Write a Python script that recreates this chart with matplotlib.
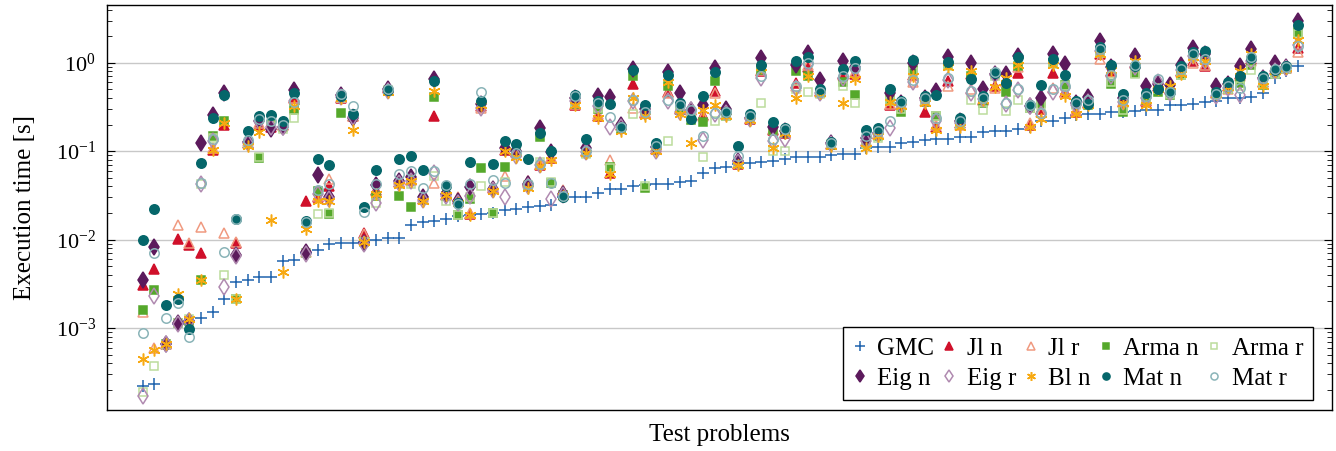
import numpy as np
import matplotlib
matplotlib.use("Agg")
import matplotlib.pyplot as plt
from matplotlib.ticker import LogLocator, NullFormatter

plt.rcParams['font.family'] = ['Liberation Serif', 'DejaVu Serif']
plt.rcParams['mathtext.fontset'] = 'custom'
plt.rcParams['mathtext.rm'] = 'Liberation Serif'
plt.rcParams['mathtext.it'] = 'Liberation Serif:italic'

# execution times in seconds, one value per test problem (sorted by GMC)
gmc = [2.2e-4, 2.3e-4, 6.5e-4, 1.1e-3, 1.2e-3, 1.3e-3, 1.5e-3, 2.1e-3, 3.3e-3, 3.5e-3,
       3.8e-3, 3.8e-3, 5.7e-3, 5.8e-3, 7.0e-3, 7.6e-3, 8.9e-3, 9.1e-3, 9.2e-3, 9.4e-3,
       0.0100, 0.0103, 0.0105, 0.0145, 0.0158, 0.0162, 0.017, 0.0185, 0.019, 0.0194,
       0.0198, 0.0217, 0.0222, 0.0232, 0.024, 0.0246, 0.0299, 0.030, 0.0302, 0.0335,
       0.0375, 0.0377, 0.040, 0.041, 0.042, 0.043, 0.045, 0.046, 0.0564, 0.064,
       0.066, 0.071, 0.0744, 0.075, 0.078, 0.082, 0.085, 0.085, 0.086, 0.091,
       0.092, 0.092, 0.108, 0.111, 0.112, 0.125, 0.126, 0.134, 0.137, 0.138,
       0.144, 0.146, 0.164, 0.17, 0.171, 0.178, 0.19, 0.22, 0.22, 0.24,
       0.257, 0.26, 0.262, 0.28, 0.28, 0.286, 0.294, 0.295, 0.335, 0.336,
       0.34, 0.359, 0.371, 0.4, 0.402, 0.408, 0.454, 0.67, 0.81, 0.91]

jl_n = [3.1e-3, 4.7e-3, 6.6e-4, 0.0101, 8.7e-3, 7.1e-3, 0.104, 0.2, 9.1e-3, 0.125,
        0.2, 0.19, 0.2, 0.4, 0.027, 0.03, 0.04, 0.4, 0.25, 0.012,
        0.036, 0.52, 0.045, 0.047, 0.029, 0.25, 0.032, 0.029, 0.0195, 0.32,
        0.038, 0.104, 0.097, 0.046, 0.07, 0.083, 0.035, 0.33, 0.1, 0.25,
        0.056, 0.2, 0.58, 0.27, 0.105, 0.466, 0.3, 0.29, 0.258, 0.473,
        0.26, 0.072, 0.23, 0.8, 0.175, 0.16, 0.59, 0.9, 0.48, 0.12,
        0.75, 0.74, 0.13, 0.155, 0.335, 0.34, 0.72, 0.28, 0.19, 0.62,
        0.21, 0.75, 0.38, 0.55, 0.62, 0.77, 0.2, 0.3, 0.76, 0.47,
        0.28, 0.35, 1.25, 0.8, 0.36, 1.0, 0.37, 0.55, 0.5, 0.8,
        1.05, 0.91, 0.45, 0.55, 0.75, 1.1, 0.6, 0.85, 0.88, 1.45]

jl_r = [1.5e-3, 5.9e-4, 6.8e-4, 0.0147, 9.1e-3, 0.0137, 0.108, 0.0118, 9.3e-3, 0.13,
        0.21, 0.2, 0.2, 0.4, 7.2e-3, 0.031, 0.049, 0.41, 0.25, 0.0115,
        0.035, 0.53, 0.047, 0.048, 0.03, 0.044, 0.033, 0.03, 0.02, 0.31,
        0.039, 0.053, 0.1, 0.044, 0.072, 0.085, 0.036, 0.34, 0.1, 0.26,
        0.08, 0.2, 0.31, 0.28, 0.11, 0.45, 0.3, 0.3, 0.25, 0.45,
        0.26, 0.074, 0.235, 0.82, 0.18, 0.165, 0.55, 0.95, 0.47, 0.12,
        0.72, 0.78, 0.13, 0.16, 0.34, 0.34, 0.6, 0.37, 0.2, 0.55,
        0.2, 0.5, 0.39, 0.52, 0.6, 0.9, 0.21, 0.28, 0.52, 0.46,
        0.29, 0.36, 1.1, 0.78, 0.37, 1.0, 0.38, 0.58, 0.5, 0.78,
        1.0, 0.95, 0.45, 0.5, 0.7, 1.05, 0.6, 0.83, 0.88, 1.33]

arma_n = [1.6e-3, 2.7e-3, 6.5e-4, 1.15e-3, 1.2e-3, 3.5e-3, 0.147, 0.217, 2.1e-3, 0.12,
          0.084, 0.2, 0.19, 0.29, 7.0e-3, 0.035, 0.0195, 0.27, 0.25, 9.3e-3,
          0.031, 0.48, 0.031, 0.0235, 0.028, 0.41, 0.031, 0.019, 0.029, 0.064,
          0.02, 0.066, 0.095, 0.04, 0.145, 0.044, 0.032, 0.34, 0.095, 0.3,
          0.067, 0.18, 0.7, 0.038, 0.105, 0.54, 0.294, 0.226, 0.213, 0.625,
          0.25, 0.072, 0.23, 0.83, 0.175, 0.16, 0.8, 0.7, 0.46, 0.118,
          0.6, 0.43, 0.12, 0.15, 0.38, 0.28, 0.83, 0.36, 0.247, 0.95,
          0.2, 0.7, 0.35, 0.74, 0.47, 0.91, 0.31, 0.35, 1.0, 0.56,
          0.34, 0.33, 1.3, 0.58, 0.28, 0.76, 0.38, 0.47, 0.43, 0.73,
          1.2, 1.18, 0.44, 0.5, 0.59, 0.95, 0.56, 0.75, 0.86, 2.2]

arma_r = [1.9e-4, 3.7e-4, 6.4e-4, 1.15e-3, 1.25e-3, 0.042, 0.14, 4.0e-3, 2.1e-3, 0.12,
          0.085, 0.195, 0.18, 0.236, 7.0e-3, 0.0195, 0.02, 0.4, 0.25, 9.4e-3,
          0.026, 0.49, 0.042, 0.042, 0.028, 0.052, 0.027, 0.019, 0.03, 0.04,
          0.02, 0.045, 0.094, 0.041, 0.075, 0.045, 0.031, 0.35, 0.094, 0.31,
          0.065, 0.19, 0.26, 0.04, 0.104, 0.13, 0.3, 0.24, 0.085, 0.22,
          0.25, 0.073, 0.232, 0.35, 0.1, 0.1, 0.5, 0.47, 0.44, 0.12,
          0.55, 0.35, 0.12, 0.14, 0.37, 0.3, 0.78, 0.37, 0.25, 0.93,
          0.2, 0.377, 0.295, 0.7, 0.285, 0.375, 0.31, 0.33, 0.98, 0.55,
          0.33, 0.34, 1.3, 0.6, 0.29, 0.75, 0.4, 0.5, 0.44, 0.72,
          1.15, 1.15, 0.43, 0.5, 0.55, 0.83, 0.57, 0.75, 0.86, 2.1]

eig_n = [3.5e-3, 8.3e-3, 6.6e-4, 1.15e-3, 1.2e-3, 0.123, 0.257, 0.45, 6.7e-3, 0.128,
         0.22, 0.18, 0.19, 0.495, 7.2e-3, 0.054, 0.03, 0.43, 0.24, 9.2e-3,
         0.041, 0.5, 0.046, 0.051, 0.03, 0.65, 0.033, 0.027, 0.039, 0.34,
         0.037, 0.108, 0.1, 0.043, 0.182, 0.098, 0.033, 0.4, 0.108, 0.42,
         0.41, 0.2, 0.86, 0.3, 0.11, 0.78, 0.454, 0.29, 0.335, 0.87,
         0.3, 0.078, 0.24, 1.13, 0.19, 0.17, 0.95, 1.3, 0.64, 0.125,
         1.05, 0.9, 0.14, 0.16, 0.45, 0.35, 1.0, 0.4, 0.48, 1.17,
         0.22, 1.0, 0.507, 0.75, 0.75, 1.2, 0.32, 0.4, 1.24, 0.97,
         0.35, 0.41, 1.78, 0.9, 0.4, 1.18, 0.54, 0.58, 0.56, 0.95,
         1.48, 1.25, 0.55, 0.58, 0.92, 1.42, 0.68, 1.0, 0.9, 2.95]

eig_r = [1.7e-4, 2.3e-3, 6.5e-4, 1.1e-3, 1.2e-3, 0.043, 0.13, 2.9e-3, 6.6e-3, 0.125,
         0.22, 0.19, 0.19, 0.37, 6.9e-3, 0.033, 0.029, 0.41, 0.245, 9.0e-3,
         0.026, 0.48, 0.044, 0.046, 0.028, 0.056, 0.031, 0.026, 0.031, 0.31,
         0.036, 0.0305, 0.088, 0.04, 0.07, 0.029, 0.032, 0.37, 0.097, 0.32,
         0.187, 0.19, 0.37, 0.28, 0.1, 0.37, 0.28, 0.294, 0.134, 0.26,
         0.27, 0.076, 0.23, 0.67, 0.131, 0.138, 0.52, 0.98, 0.45, 0.12,
         0.68, 0.85, 0.13, 0.155, 0.183, 0.33, 0.6, 0.38, 0.22, 0.63,
         0.21, 0.45, 0.39, 0.72, 0.34, 0.49, 0.32, 0.26, 0.47, 0.52,
         0.33, 0.36, 1.35, 0.7, 0.36, 0.9, 0.4, 0.6, 0.45, 0.83,
         1.2, 1.05, 0.42, 0.52, 0.43, 1.05, 0.65, 0.8, 0.88, 1.6]

bl_n = [4.4e-4, 5.6e-4, 6.5e-4, 2.4e-3, 1.25e-3, 3.5e-3, 0.102, 0.21, 2.1e-3, 0.113,
        0.163, 0.0167, 4.3e-3, 0.32, 0.0133, 0.027, 0.027, 0.4, 0.175, 9.3e-3,
        0.033, 0.47, 0.041, 0.046, 0.027, 0.48, 0.032, 0.026, 0.019, 0.33,
        0.035, 0.1, 0.085, 0.038, 0.068, 0.08, 0.031, 0.33, 0.096, 0.24,
        0.055, 0.17, 0.4, 0.247, 0.1, 0.61, 0.26, 0.123, 0.294, 0.335,
        0.253, 0.07, 0.225, 0.89, 0.108, 0.16, 0.4, 0.7, 0.46, 0.113,
        0.35, 0.65, 0.108, 0.15, 0.36, 0.32, 0.7, 0.35, 0.174, 0.9,
        0.19, 0.8, 0.38, 0.53, 0.68, 0.95, 0.19, 0.23, 0.95, 0.42,
        0.26, 0.33, 1.25, 0.82, 0.35, 1.05, 0.335, 0.5, 0.55, 0.74,
        1.15, 1.05, 0.44, 0.53, 0.8, 1.25, 0.55, 0.8, 0.87, 1.8]

mat_n = [0.010, 0.022, 1.8e-3, 2.1e-3, 9.8e-4, 0.073, 0.236, 0.43, 0.0171, 0.167,
         0.25, 0.255, 0.222, 0.45, 0.0163, 0.081, 0.07, 0.42, 0.265, 0.0235,
         0.061, 0.49, 0.081, 0.087, 0.061, 0.62, 0.04, 0.0257, 0.0745, 0.37,
         0.071, 0.131, 0.121, 0.081, 0.16, 0.1, 0.03, 0.435, 0.137, 0.37,
         0.34, 0.187, 0.83, 0.335, 0.124, 0.73, 0.35, 0.232, 0.416, 0.777,
         0.28, 0.115, 0.26, 0.95, 0.211, 0.182, 1.05, 1.15, 0.5, 0.128,
         0.85, 1.05, 0.172, 0.182, 0.5, 0.365, 1.08, 0.416, 0.43, 1.02,
         0.24, 0.66, 0.418, 0.77, 0.59, 1.15, 0.336, 0.565, 1.09, 0.72,
         0.365, 0.34, 1.52, 0.94, 0.44, 0.93, 0.45, 0.5, 0.47, 0.91,
         1.33, 1.37, 0.47, 0.61, 0.71, 1.12, 0.71, 0.82, 0.92, 2.7]

mat_r = [8.7e-4, 7.0e-3, 1.3e-3, 1.9e-3, 7.9e-4, 0.044, 0.137, 7.3e-3, 0.0171, 0.135,
         0.23, 0.22, 0.2, 0.36, 0.016, 0.0365, 0.043, 0.44, 0.32, 0.0204,
         0.042, 0.5, 0.055, 0.059, 0.038, 0.059, 0.041, 0.025, 0.042, 0.47,
         0.047, 0.044, 0.095, 0.042, 0.072, 0.044, 0.031, 0.42, 0.1, 0.35,
         0.243, 0.19, 0.38, 0.28, 0.115, 0.38, 0.335, 0.29, 0.147, 0.27,
         0.28, 0.087, 0.25, 0.7, 0.138, 0.18, 0.55, 1.0, 0.47, 0.125,
         0.7, 0.87, 0.15, 0.17, 0.22, 0.36, 0.64, 0.4, 0.24, 0.67,
         0.22, 0.476, 0.4, 0.78, 0.35, 0.5, 0.33, 0.27, 0.5, 0.55,
         0.35, 0.38, 1.42, 0.72, 0.38, 0.95, 0.42, 0.65, 0.47, 0.85,
         1.25, 1.1, 0.44, 0.55, 0.52, 1.15, 0.68, 0.85, 0.9, 1.55]

# (label, data, marker, size, face, edge)
series = [
    ("GMC", gmc, "+", 9, "#1f63ad", "#1f63ad"),
    ("Jl n", jl_n, "^", 7, "#d0102a", "#d0102a"),
    ("Jl r", jl_r, "^", 7, "none", "#f09a80"),
    ("Arma n", arma_n, "s", 6, "#55a82b", "#55a82b"),
    ("Arma r", arma_r, "s", 6, "none", "#bcdc9c"),
    ("Eig n", eig_n, "d", 8, "#5c1a5c", "#5c1a5c"),
    ("Eig r", eig_r, "d", 8, "none", "#b08ab0"),
    ("Bl n", bl_n, (6, 2, 0), 8.5, "#f7a912", "#f7a912"),
    ("Mat n", mat_n, "o", 6.8, "#05666a", "#05666a"),
    ("Mat r", mat_r, "o", 6.8, "none", "#8ab4b8"),
]

fig = plt.figure(figsize=(13.36, 4.51), dpi=100)
ax = fig.add_axes([107 / 1336, 1 - 410 / 451, 1225 / 1336, 405 / 451])

x = np.arange(len(gmc))
handles = []
for label, vals, mk, ms, fc, ec in series:
    h, = ax.plot(x, vals, linestyle="none", marker=mk, markersize=ms,
                 markerfacecolor=fc, markeredgecolor=ec, markeredgewidth=1.1,
                 label=label)
    handles.append(h)

ax.set_yscale("log")
ax.set_xlim(-3.06, 101.9)
ax.set_ylim(1.18e-4, 4.5)
ax.set_xticks([])
ax.yaxis.set_major_locator(LogLocator(base=10, numticks=10))
ax.yaxis.set_minor_locator(LogLocator(base=10, subs=np.arange(2, 10), numticks=100))
ax.yaxis.set_minor_formatter(NullFormatter())
ax.tick_params(axis="y", which="both", direction="in", left=True, right=True,
               labelsize=16, pad=8)
ax.tick_params(axis="y", which="major", length=6, width=0.8)
ax.tick_params(axis="y", which="minor", length=3.5, width=0.6)
ax.grid(True, axis="y", which="major", color="#c8c8c8", linewidth=1.0)
ax.set_axisbelow(True)
for s in ax.spines.values():
    s.set_linewidth(1.0)

ax.set_xlabel("Test problems", fontsize=18, labelpad=10)
ax.set_ylabel("Execution time [s]", fontsize=18, labelpad=14)

# legend filled row by row (matplotlib fills columns first)
order = [0, 5, 1, 6, 2, 7, 3, 8, 4, 9]
leg = ax.legend([handles[i] for i in order], [series[i][0] for i in order],
                ncol=5, loc="lower right", bbox_to_anchor=(0.9845, 0.0247),
                borderaxespad=0, fontsize=18, markerscale=0.75,
                handlelength=0.5, handletextpad=0.45, columnspacing=0.35,
                labelspacing=0.3, borderpad=0.4, fancybox=False, framealpha=1)
leg.get_frame().set_edgecolor("black")
leg.get_frame().set_linewidth(1.0)

fig.savefig("out.png", dpi=100)
